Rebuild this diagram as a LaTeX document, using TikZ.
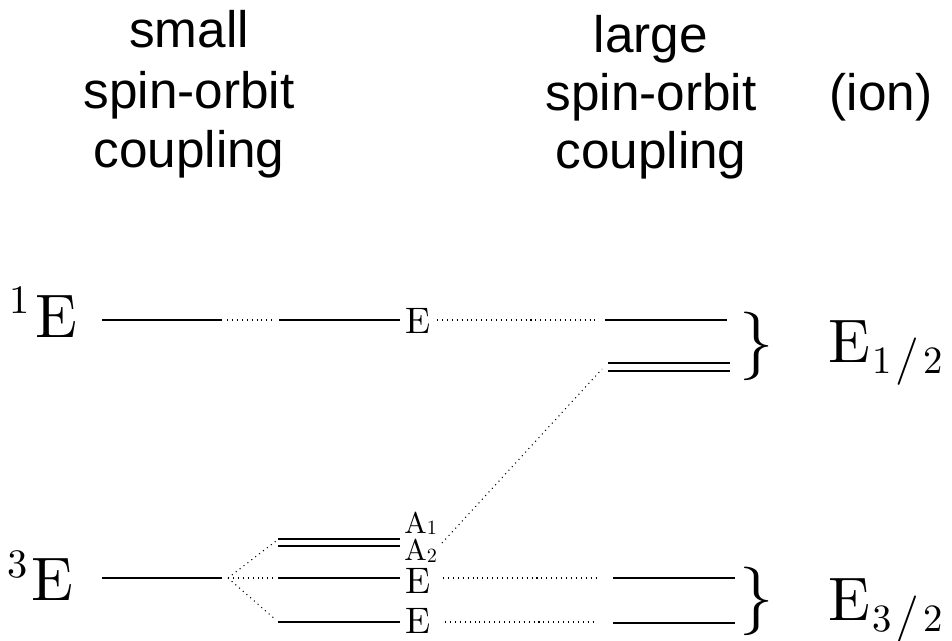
\RequirePackage{fix-cm}
\documentclass[tikz,border=0pt]{standalone}
\usepackage{fontspec}
\newfontfamily\hdrfont{Liberation Sans}
\newfontfamily\tenrm{lmroman10-regular.otf}
\newcommand\bigsize{\fontsize{35}{40}\selectfont}
\newcommand\supsize{\fontsize{23}{24}\selectfont}
\newcommand\subsize{\fontsize{22}{24}\selectfont}
\newcommand\slashsize{\fontsize{27}{28}\selectfont}
\begin{document}
\begin{tikzpicture}[x=0.02cm,y=-0.02cm,
  hdr/.style={font=\hdrfont\fontsize{29.2}{34}\selectfont, inner sep=0pt, anchor=base},
  bigE/.style={font=\tenrm\bigsize, inner sep=0pt, anchor=base west},
  smallE/.style={font=\tenrm\fontsize{21}{24}\selectfont, inner sep=0pt, anchor=base west},
  smallA/.style={font=\tenrm\fontsize{17}{20}\selectfont, inner sep=0pt, anchor=base west},
  level/.style={line width=0.8pt},
  dlevel/.style={line width=0.75pt},
  dotline/.style={line width=0.6pt, dash pattern=on 0.6pt off 2.2pt},
  bracenode/.style={font=\tenrm\fontsize{39}{40}\selectfont, inner sep=0pt, anchor=center}
]
\useasboundingbox (0,0) rectangle (952,640);

% headers
\node[hdr] (h1) at (189,47) {small};
\node[hdr] (h2) at (189,108) {spin-orbit};
\node[hdr] (h3) at (189,167) {coupling};
\node[hdr] (h4) at (651,52) {large};
\node[hdr] (h5) at (651,110) {spin-orbit};
\node[hdr] (h6) at (651,168) {coupling};
\node[hdr] (h7) at (881,110) {(ion)};

% term labels
\node[bigE] (singlet) at (9,337) {\raisebox{13.5pt}{\supsize 1}\kern3.5pt E};
\node[bigE] (triplet) at (7,600) {\raisebox{13pt}{\supsize 3}\kern2.5pt E};

% upper levels
\coordinate (a1) at (102,320); \coordinate (a2) at (222,320);
\coordinate (a3) at (227,320); \coordinate (a4) at (275,320);
\coordinate (a5) at (279,320); \coordinate (a6) at (400,320);
\coordinate (a7) at (437,320); \coordinate (a8) at (597,320);
\coordinate (a9) at (605,320); \coordinate (a10) at (727,320);
\draw[level] (a1) -- (a2);
\draw[dotline] (a3) -- (a4);
\draw[level] (a5) -- (a6);
\node[smallE] (lE1) at (405,333) {E};
\draw[dotline] (a7) -- (a8);
\draw[level] (a9) -- (a10);
\coordinate (b1) at (608,363); \coordinate (b2) at (730,363);
\coordinate (b3) at (608,371); \coordinate (b4) at (730,371);
\draw[dlevel] (b1) -- (b2);
\draw[dlevel] (b3) -- (b4);
\node[bracenode] (br1) at (757,346) {\}};
\node[bigE] (Ehalf) at (828,362) {E\raisebox{-6.8pt}{\subsize\kern1pt 1\kern2.5pt{\slashsize /}\kern2.5pt2}};

% lower levels
\coordinate (c1) at (102,578); \coordinate (c2) at (222,578);
\coordinate (br) at (228,578);
\draw[level] (c1) -- (c2);
\coordinate (d1) at (278,539); \coordinate (d2) at (400,539);
\coordinate (d3) at (278,546); \coordinate (d4) at (400,546);
\coordinate (d5) at (278,578); \coordinate (d6) at (400,578);
\coordinate (d7) at (278,622); \coordinate (d8) at (400,622);
\draw[dlevel] (d1) -- (d2);
\draw[dlevel] (d3) -- (d4);
\draw[level] (d5) -- (d6);
\draw[level] (d7) -- (d8);
\draw[dotline] (br) -- (276,541);
\draw[dotline] (br) -- (274,578);
\draw[dotline] (br) -- (276,620);

\node[smallA] (lA1) at (404,533) {A\raisebox{-1pt}{\fontsize{11.5}{12}\selectfont 1}};
\node[smallA] (lA2) at (404,560) {A\raisebox{-1.5pt}{\fontsize{11.5}{12}\selectfont 2}};
\node[smallE] (lE2) at (405,593) {E};
\node[smallE] (lE3) at (405,633) {E};

\coordinate (e1) at (442,543); \coordinate (e2) at (602,369);
\draw[dotline] (e1) -- (e2);
\coordinate (f1) at (443,578); \coordinate (f2) at (597,578);
\coordinate (f3) at (445,622); \coordinate (f4) at (595,622);
\draw[dotline] (f1) -- (f2);
\draw[dotline] (f3) -- (f4);

\coordinate (g1) at (613,578); \coordinate (g2) at (735,578);
\coordinate (g3) at (613,623); \coordinate (g4) at (735,623);
\draw[level] (g1) -- (g2);
\draw[level] (g3) -- (g4);
\node[bracenode] (br2) at (757,601) {\}};
\node[bigE] (Ethreehalf) at (828,620) {E\raisebox{-6.8pt}{\subsize\kern1pt 3\kern2.5pt{\slashsize /}\kern2.5pt2}};
\end{tikzpicture}
\end{document}
